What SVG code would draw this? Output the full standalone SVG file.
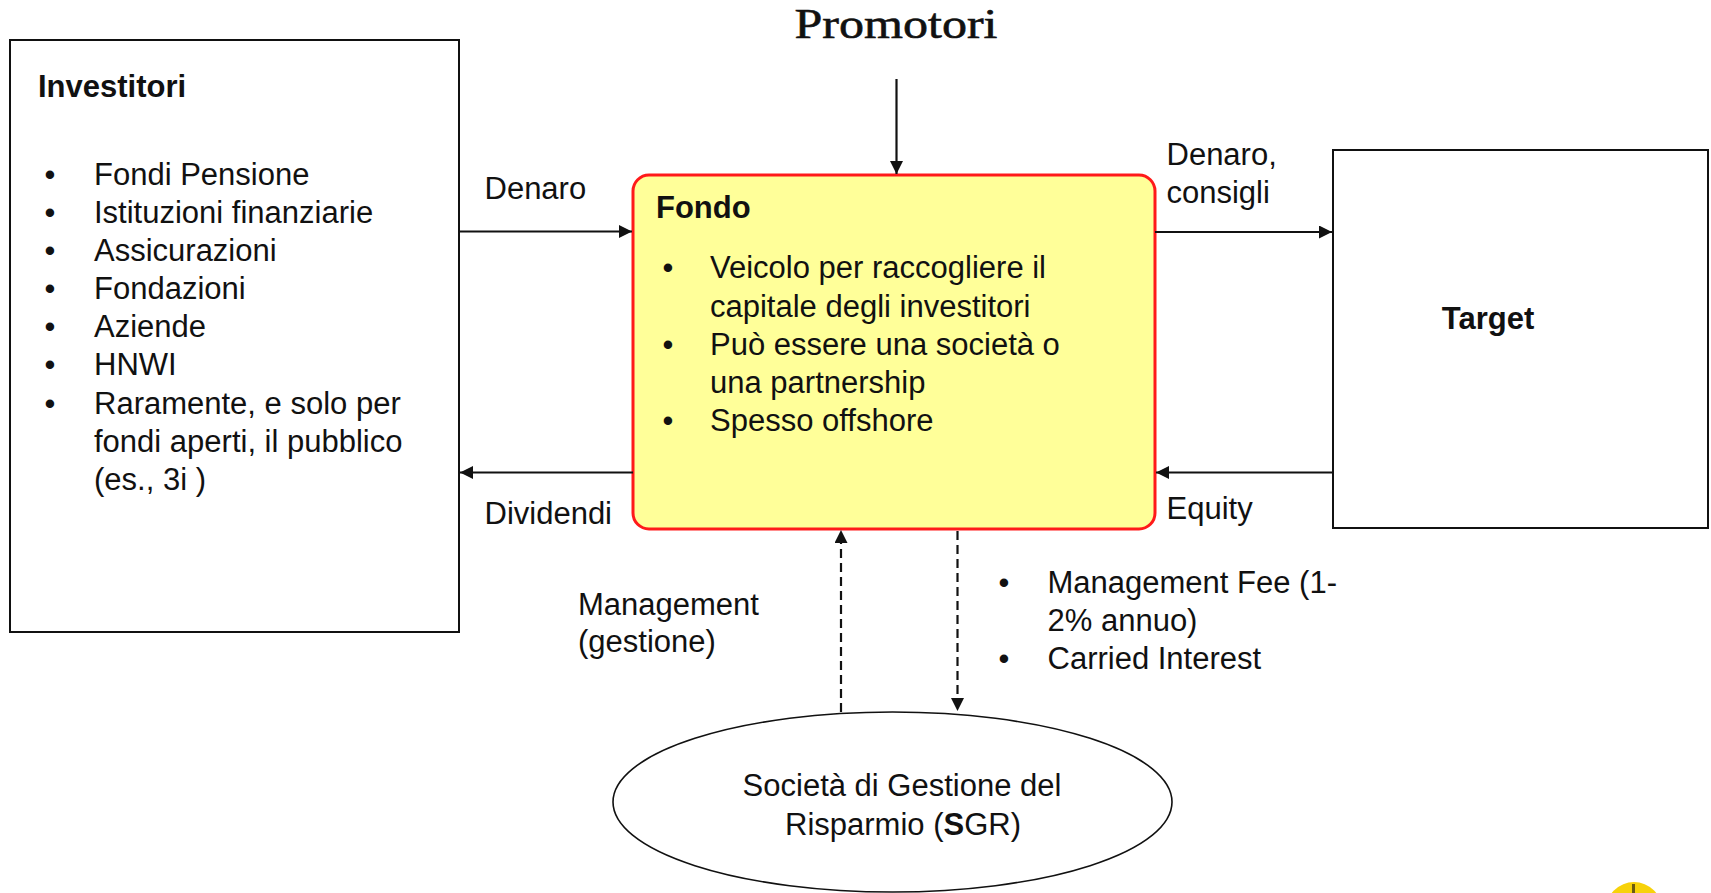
<svg xmlns="http://www.w3.org/2000/svg" width="1711" height="893" viewBox="0 0 1711 893">
  <style>
    .txt { font-family: "Liberation Sans", Arial, sans-serif; font-size: 31px; fill: #111; }
    .bold { font-weight: bold; }
    .box { fill: #fff; stroke: #111; stroke-width: 2; }
    .conn { fill: none; stroke: #111; stroke-width: 2.2; }
    .dash { stroke-dasharray: 9 5; }
  </style>
  <defs>
    <marker id="arrow" viewBox="0 0 10 10" refX="10" refY="5" markerWidth="13" markerHeight="13" markerUnits="userSpaceOnUse" orient="auto">
      <path d="M0,0 L10,5 L0,10 z" fill="#111"/>
    </marker>
  </defs>
  <rect width="1711" height="893" fill="#fff"/>

  <!-- Promotori heading -->
  <g id="promotori">
    <text x="896" y="38" text-anchor="middle" font-family="'Liberation Serif', 'Times New Roman', serif" font-size="43" fill="#111" stroke="#111" stroke-width="0.6" textLength="203" lengthAdjust="spacingAndGlyphs">Promotori</text>
  </g>

  <!-- Investitori -->
  <g id="investitori">
    <rect class="box" x="10" y="40" width="449" height="592"/>
    <text class="txt bold" x="38" y="97">Investitori</text>
    <g class="txt">
      <text x="44.5" y="185">•</text><text x="94" y="185">Fondi Pensione</text>
      <text x="44.5" y="223">•</text><text x="94" y="223">Istituzioni finanziarie</text>
      <text x="44.5" y="261">•</text><text x="94" y="261">Assicurazioni</text>
      <text x="44.5" y="299">•</text><text x="94" y="299">Fondazioni</text>
      <text x="44.5" y="337">•</text><text x="94" y="337">Aziende</text>
      <text x="44.5" y="375">•</text><text x="94" y="375">HNWI</text>
      <text x="44.5" y="414">•</text><text x="94" y="414">Raramente, e solo per</text>
      <text x="94" y="452">fondi aperti, il pubblico</text>
      <text x="94" y="490">(es., 3i )</text>
    </g>
  </g>

  <!-- Fondo -->
  <g id="fondo">
    <rect x="633" y="175" width="522" height="354" rx="16" ry="16" fill="#ffff99" stroke="#ff1a1a" stroke-width="3"/>
    <text class="txt bold" x="656" y="218">Fondo</text>
    <g class="txt">
      <text x="662.5" y="278">•</text><text x="710" y="278">Veicolo per raccogliere il</text>
      <text x="710" y="316.5">capitale degli investitori</text>
      <text x="662.5" y="355">•</text><text x="710" y="355">Può essere una società o</text>
      <text x="710" y="393">una partnership</text>
      <text x="662.5" y="431">•</text><text x="710" y="431">Spesso offshore</text>
    </g>
  </g>

  <!-- Target -->
  <g id="target">
    <rect class="box" x="1333" y="150" width="375" height="378"/>
    <text class="txt bold" x="1488" y="329" text-anchor="middle">Target</text>
  </g>

  <!-- SGR -->
  <g id="sgr">
    <ellipse cx="892.5" cy="802" rx="279.5" ry="90" fill="#fff" stroke="#111" stroke-width="1.6"/>
    <text class="txt" x="902" y="796" text-anchor="middle">Società di Gestione del</text>
    <text class="txt" x="903" y="834.5" text-anchor="middle">Risparmio (<tspan font-weight="bold">S</tspan>GR)</text>
  </g>

  <!-- Connectors -->
  <g id="connectors">
    <path class="conn" d="M896.5,79 V174" marker-end="url(#arrow)"/>
    <path class="conn" d="M459,231.5 H632" marker-end="url(#arrow)"/>
    <path class="conn" d="M633,472.5 H460" marker-end="url(#arrow)"/>
    <path class="conn" d="M1155,232 H1332" marker-end="url(#arrow)"/>
    <path class="conn" d="M1333,472.5 H1156" marker-end="url(#arrow)"/>
    <path class="conn dash" d="M841,712 V530" marker-end="url(#arrow)"/>
    <path class="conn dash" d="M957.5,531 V711" marker-end="url(#arrow)"/>
  </g>

  <!-- Connector labels -->
  <g id="labels" class="txt">
    <text x="484.5" y="199">Denaro</text>
    <text x="484.5" y="524">Dividendi</text>
    <text x="1166.5" y="165">Denaro,</text>
    <text x="1166.5" y="203">consigli</text>
    <text x="1166.5" y="518.5">Equity</text>
    <text x="578" y="614.5">Management</text>
    <text x="578" y="651.5">(gestione)</text>
    <text x="998.5" y="593">•</text><text x="1047.5" y="593">Management Fee (1-</text>
    <text x="1047.5" y="631">2% annuo)</text>
    <text x="998.5" y="669">•</text><text x="1047.5" y="669">Carried Interest</text>
  </g>

  <!-- Corner badge -->
  <g id="badge">
    <circle cx="1634" cy="910" r="28" fill="#f7d20a"/>
    <path d="M1633.5,884 V893" stroke="#6b5a10" stroke-width="3"/>
  </g>
</svg>
